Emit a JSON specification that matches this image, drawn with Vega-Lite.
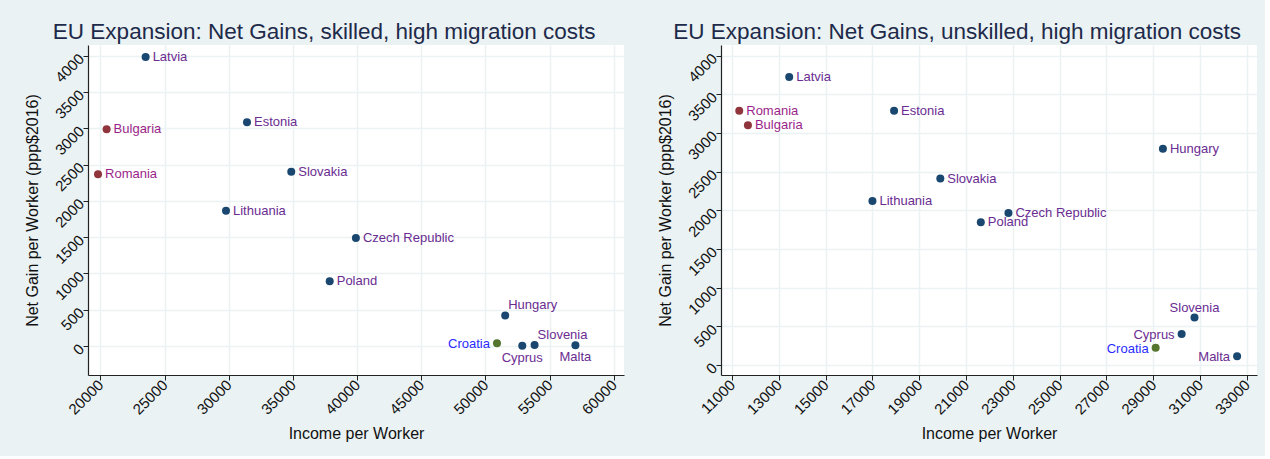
{
  "$schema": "https://vega.github.io/schema/vega-lite/v6.json",
  "background": "#eaf2f3",
  "padding": {"left": 24, "top": 20, "right": 8, "bottom": 14},
  "spacing": 33,
  "datasets": {
    "skilled": [
      {"country": "Latvia", "income": 23530, "gain": 3986, "group": "2004 accession"},
      {"country": "Bulgaria", "income": 20490, "gain": 2988, "group": "2007 accession"},
      {"country": "Romania", "income": 19820, "gain": 2368, "group": "2007 accession"},
      {"country": "Estonia", "income": 31425, "gain": 3085, "group": "2004 accession"},
      {"country": "Slovakia", "income": 34875, "gain": 2404, "group": "2004 accession"},
      {"country": "Lithuania", "income": 29790, "gain": 1865, "group": "2004 accession"},
      {"country": "Czech Republic", "income": 39910, "gain": 1489, "group": "2004 accession"},
      {"country": "Poland", "income": 37870, "gain": 893, "group": "2004 accession"},
      {"country": "Hungary", "income": 51540, "gain": 421, "group": "2004 accession"},
      {"country": "Croatia", "income": 50900, "gain": 37, "group": "2013 accession"},
      {"country": "Cyprus", "income": 52870, "gain": 2, "group": "2004 accession"},
      {"country": "Slovenia", "income": 53830, "gain": 14, "group": "2004 accession"},
      {"country": "Malta", "income": 57010, "gain": 10, "group": "2004 accession"}
    ],
    "unskilled": [
      {"country": "Latvia", "income": 13444, "gain": 3724, "group": "2004 accession"},
      {"country": "Romania", "income": 11310, "gain": 3287, "group": "2007 accession"},
      {"country": "Bulgaria", "income": 11680, "gain": 3102, "group": "2007 accession"},
      {"country": "Estonia", "income": 17925, "gain": 3287, "group": "2004 accession"},
      {"country": "Slovakia", "income": 19900, "gain": 2411, "group": "2004 accession"},
      {"country": "Lithuania", "income": 17000, "gain": 2122, "group": "2004 accession"},
      {"country": "Hungary", "income": 29410, "gain": 2796, "group": "2004 accession"},
      {"country": "Czech Republic", "income": 22810, "gain": 1966, "group": "2004 accession"},
      {"country": "Poland", "income": 21630, "gain": 1846, "group": "2004 accession"},
      {"country": "Slovenia", "income": 30760, "gain": 615, "group": "2004 accession"},
      {"country": "Cyprus", "income": 30210, "gain": 403, "group": "2004 accession"},
      {"country": "Croatia", "income": 29100, "gain": 226, "group": "2013 accession"},
      {"country": "Malta", "income": 32580, "gain": 114, "group": "2004 accession"}
    ]
  },
  "resolve": {"scale": {"x": "independent", "y": "independent"}},
  "hconcat": [
    {
      "width": 536,
      "height": 330,
      "data": {"name": "skilled"},
      "title": {"text": "EU Expansion: Net Gains, skilled, high migration costs"},
      "encoding": {
        "x": {"field": "income", "type": "quantitative", "title": "Income per Worker",
              "scale": {"domain": [19040, 60795], "nice": false, "zero": false},
              "axis": {"format": "d", "values": [20000, 25000, 30000, 35000, 40000, 45000, 50000, 55000, 60000]}},
        "y": {"field": "gain", "type": "quantitative", "title": "Net Gain per Worker (ppp$2016)",
              "scale": {"domain": [-400, 4150], "nice": false, "zero": false},
              "axis": {"format": "d", "values": [0, 500, 1000, 1500, 2000, 2500, 3000, 3500, 4000]}}
      },
      "layer": [
        {"mark": {"type": "point", "filled": true, "size": 64, "opacity": 1, "shape": "circle"},
         "encoding": {"fill": {"field": "group", "type": "nominal", "legend": null,
            "scale": {"domain": ["2004 accession", "2007 accession", "2013 accession"], "range": ["#1a476f", "#90353b", "#55752f"]}}}},
        {"transform": [{"filter": {"not": {"field": "country", "oneOf": ["Hungary", "Croatia", "Cyprus", "Slovenia", "Malta"]}}}],
         "mark": {"type": "text", "align": "left", "baseline": "middle", "dx": 7, "fontSize": 13},
         "encoding": {"text": {"field": "country"}, "color": {"field": "group", "type": "nominal", "legend": null,
            "scale": {"domain": ["2004 accession", "2007 accession", "2013 accession"], "range": ["#6a2c91", "#9a1f8a", "#2b2bff"]}}}},
        {"transform": [{"filter": {"field": "country", "oneOf": ["Hungary", "Slovenia"]}}],
         "mark": {"type": "text", "align": "left", "baseline": "middle", "dx": 3, "dy": -10, "fontSize": 13},
         "encoding": {"text": {"field": "country"}, "color": {"field": "group", "type": "nominal", "legend": null,
            "scale": {"domain": ["2004 accession", "2007 accession", "2013 accession"], "range": ["#6a2c91", "#9a1f8a", "#2b2bff"]}}}},
        {"transform": [{"filter": {"field": "country", "oneOf": ["Cyprus", "Malta"]}}],
         "mark": {"type": "text", "align": "center", "baseline": "middle", "dy": 12, "fontSize": 13},
         "encoding": {"text": {"field": "country"}, "color": {"field": "group", "type": "nominal", "legend": null,
            "scale": {"domain": ["2004 accession", "2007 accession", "2013 accession"], "range": ["#6a2c91", "#9a1f8a", "#2b2bff"]}}}},
        {"transform": [{"filter": {"field": "country", "oneOf": ["Croatia"]}}],
         "mark": {"type": "text", "align": "right", "baseline": "middle", "dx": -7, "dy": 1, "fontSize": 13},
         "encoding": {"text": {"field": "country"}, "color": {"field": "group", "type": "nominal", "legend": null,
            "scale": {"domain": ["2004 accession", "2007 accession", "2013 accession"], "range": ["#6a2c91", "#9a1f8a", "#2b2bff"]}}}}
      ]
    },
    {
      "width": 536,
      "height": 330,
      "data": {"name": "unskilled"},
      "title": {"text": "EU Expansion: Net Gains, unskilled, high migration costs"},
      "encoding": {
        "x": {"field": "income", "type": "quantitative", "title": "Income per Worker",
              "scale": {"domain": [10530, 33430], "nice": false, "zero": false},
              "axis": {"format": "d", "values": [11000, 13000, 15000, 17000, 19000, 21000, 23000, 25000, 27000, 29000, 31000, 33000]}},
        "y": {"field": "gain", "type": "quantitative", "title": "Net Gain per Worker (ppp$2016)",
              "scale": {"domain": [-127, 4138], "nice": false, "zero": false},
              "axis": {"format": "d", "values": [0, 500, 1000, 1500, 2000, 2500, 3000, 3500, 4000]}}
      },
      "layer": [
        {"mark": {"type": "point", "filled": true, "size": 64, "opacity": 1, "shape": "circle"},
         "encoding": {"fill": {"field": "group", "type": "nominal", "legend": null,
            "scale": {"domain": ["2004 accession", "2007 accession", "2013 accession"], "range": ["#1a476f", "#90353b", "#55752f"]}}}},
        {"transform": [{"filter": {"not": {"field": "country", "oneOf": ["Slovenia", "Cyprus", "Croatia", "Malta"]}}}],
         "mark": {"type": "text", "align": "left", "baseline": "middle", "dx": 7, "fontSize": 13},
         "encoding": {"text": {"field": "country"}, "color": {"field": "group", "type": "nominal", "legend": null,
            "scale": {"domain": ["2004 accession", "2007 accession", "2013 accession"], "range": ["#6a2c91", "#9a1f8a", "#2b2bff"]}}}},
        {"transform": [{"filter": {"field": "country", "oneOf": ["Slovenia"]}}],
         "mark": {"type": "text", "align": "center", "baseline": "middle", "dy": -10, "fontSize": 13},
         "encoding": {"text": {"field": "country"}, "color": {"field": "group", "type": "nominal", "legend": null,
            "scale": {"domain": ["2004 accession", "2007 accession", "2013 accession"], "range": ["#6a2c91", "#9a1f8a", "#2b2bff"]}}}},
        {"transform": [{"filter": {"field": "country", "oneOf": ["Cyprus", "Croatia", "Malta"]}}],
         "mark": {"type": "text", "align": "right", "baseline": "middle", "dx": -7, "dy": 1, "fontSize": 13},
         "encoding": {"text": {"field": "country"}, "color": {"field": "group", "type": "nominal", "legend": null,
            "scale": {"domain": ["2004 accession", "2007 accession", "2013 accession"], "range": ["#6a2c91", "#9a1f8a", "#2b2bff"]}}}}
      ]
    }
  ],
  "config": {
    "font": "Liberation Sans",
    "view": {"stroke": null, "fill": "white"},
    "title": {"fontSize": 22.5, "fontWeight": "normal", "color": "#1e2a4a", "anchor": "middle", "offset": 2, "frame": "bounds"},
    "axis": {
      "domainColor": "#222222", "domainWidth": 1.2, "tickColor": "#222222", "tickSize": 5, "tickWidth": 1,
      "gridColor": "#eaf2f3", "gridWidth": 1.5,
      "labelColor": "#111111", "labelFontSize": 15, "labelAngle": -45, "labelAlign": "right", "labelBaseline": "middle", "labelPadding": 2,
      "titleColor": "#111111", "titleFontSize": 16, "titleFontWeight": "normal", "titlePadding": 8
    },
    "axisX": {"labelBaseline": "middle", "labelAlign": "right"},
    "axisY": {"titlePadding": 12}
  }
}
